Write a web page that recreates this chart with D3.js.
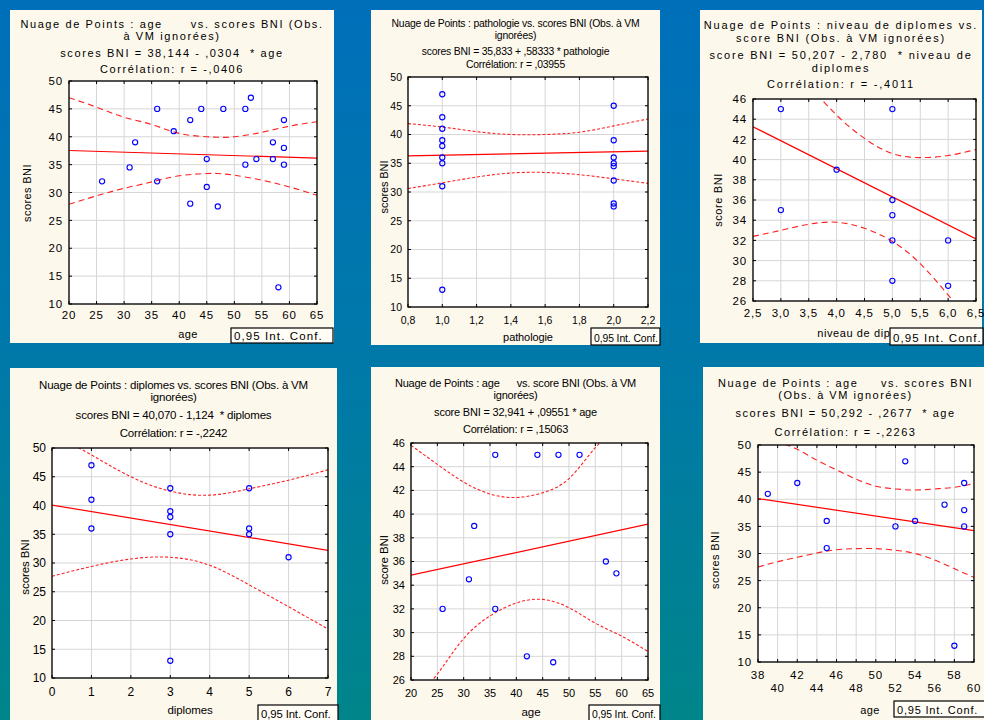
<!DOCTYPE html>
<html>
<head>
<meta charset="utf-8">
<script src="https://cdn.jsdelivr.net/npm/d3@7"></script>
<style>
  body { margin: 0; }
  svg { display: block; }
</style>
</head>
<body>
<script>
// ---- panel 1 : age vs scores BNI ----
const p1X = [26, 31, 32, 36, 36, 39, 42, 42, 44, 45, 45, 47, 48, 52, 52, 53, 54, 57, 57, 58, 59, 59, 59];
const p1Y = [32, 34.5, 39, 45, 32, 41, 43, 28, 45, 36, 31, 27.5, 45, 45, 35, 47, 36, 39, 36, 13, 43, 38, 35];
const p1CiX = [20, 25, 30, 35, 40, 45, 47, 50, 55, 60, 65];
const p1Up = [47.0, 45.3, 43.5, 42.2, 40.6, 40.0, 39.9, 40.0, 40.8, 41.9, 42.7];
const p1Lo = [27.9, 29.4, 30.75, 31.9, 33.0, 33.4, 33.4, 33.1, 32.2, 31.0, 29.5];
const p1Fit = [38.144, -0.0304];
const p1XTicks = [20, 25, 30, 35, 40, 45, 50, 55, 60, 65];
const p1YTicks = [10, 15, 20, 25, 30, 35, 40, 45, 50];

// ---- panel 2 : pathologie ----
const p2X = [1, 1, 1, 1, 1, 1, 1, 1, 1, 2, 2, 2, 2, 2, 2, 2, 2];
const p2Y = [47, 43, 41, 39, 38, 36, 35, 31, 13, 45, 39, 36, 35, 34.5, 32, 28, 27.5];
const p2CiX = [0.8, 1.0, 1.2, 1.4, 1.6, 1.8, 2.0, 2.2];
const p2Up = [41.9, 41.3, 40.5, 40.0, 40.0, 40.4, 41.5, 42.7];
const p2Lo = [30.6, 31.6, 32.6, 33.3, 33.4, 33.0, 32.3, 31.5];
const p2Fit = [35.833, 0.58333];
const p2XTicks = [0.8, 1.0, 1.2, 1.4, 1.6, 1.8, 2.0, 2.2];
const p2YTicks = [10, 15, 20, 25, 30, 35, 40, 45, 50];

// ---- panel 3 : niveau de diplomes ----
const p3X = [3, 3, 4, 5, 5, 5, 5, 5, 6, 6];
const p3Y = [45, 35, 39, 45, 36, 34.5, 32, 28, 32, 27.5];
const p3CiX = [2.5, 3.0, 3.5, 4.0, 4.5, 5.0, 5.5, 6.0, 6.5];
const p3Up = [54.1, 50.7, 47.4, 44.4, 42.1, 40.6, 40.2, 40.4, 41.0];
const p3Lo = [32.4, 33.0, 33.6, 33.8, 33.2, 31.9, 29.7, 26.6, 23.3];
const p3Fit = [50.207, -2.780];
const p3XTicks = [2.5, 3.0, 3.5, 4.0, 4.5, 5.0, 5.5, 6.0, 6.5];
const p3YTicks = [26, 28, 30, 32, 34, 36, 38, 40, 42, 44, 46];

// ---- panel 4 : diplomes ----
const p4X = [1, 1, 1, 3, 3, 3, 3, 3, 5, 5, 5, 6];
const p4Y = [47, 41, 36, 43, 39, 38, 35, 13, 43, 36, 35, 31];
const p4CiX = [0, 1, 2, 3, 4, 5, 6, 7];
const p4Up = [52.5, 48.8, 45.0, 42.5, 41.8, 42.9, 44.4, 46.2];
const p4Lo = [27.7, 29.4, 30.7, 31.0, 29.6, 26.2, 22.4, 18.5];
const p4Fit = [40.070, -1.124];
const p4XTicks = [0, 1, 2, 3, 4, 5, 6, 7];
const p4YTicks = [10, 15, 20, 25, 30, 35, 40, 45, 50];

// ---- panel 5 : age vs score BNI ----
const p5X = [26, 31, 32, 36, 36, 42, 44, 47, 48, 52, 57, 59];
const p5Y = [32, 34.5, 39, 45, 32, 28, 45, 27.5, 45, 45, 36, 35];
const p5CiX = [20, 25, 30, 35, 40, 45, 50, 55, 60, 65];
const p5Up = [45.8, 44.2, 42.7, 41.7, 41.4, 41.8, 43.0, 45.6, 47.7, 49.9];
const p5Lo = [23.9, 26.5, 29.5, 31.4, 32.5, 32.8, 32.1, 30.8, 29.7, 28.4];
const p5Fit = [32.941, 0.09551];
const p5XTicks = [20, 25, 30, 35, 40, 45, 50, 55, 60, 65];
const p5YTicks = [26, 28, 30, 32, 34, 36, 38, 40, 42, 44, 46];

// ---- panel 6 : age (38-60) ----
const p6X = [39, 42, 45, 45, 52, 53, 54, 57, 58, 59, 59, 59];
const p6Y = [41, 43, 36, 31, 35, 47, 36, 39, 13, 43, 38, 35];
const p6CiX = [38, 40, 42, 44, 46, 48, 50, 52, 54, 56, 58, 60];
const p6Up = [52.7, 50.7, 49.2, 47.2, 45.4, 43.7, 42.4, 41.9, 41.7, 41.9, 42.2, 42.9];
const p6Lo = [27.5, 28.5, 29.3, 30.1, 30.7, 30.9, 30.9, 30.6, 30.0, 28.8, 27.2, 25.6];
const p6Fit = [50.292, -0.2677];
const p6XTicks = [38, 40, 42, 44, 46, 48, 50, 52, 54, 56, 58, 60];
const p6YTicks = [10, 15, 20, 25, 30, 35, 40, 45, 50];

const W = 984, H = 720;
const sans = "'Liberation Sans', Arial, sans-serif";

const svg = d3.select("body").append("svg")
  .attr("width", W)
  .attr("height", H);

const defs = svg.append("defs");
const grad = defs.append("linearGradient")
  .attr("id", "bg")
  .attr("x1", 0).attr("y1", 0).attr("x2", 0).attr("y2", 1);
grad.append("stop").attr("offset", "0%").attr("stop-color", "#006fba");
grad.append("stop").attr("offset", "50%").attr("stop-color", "#0079a9");
grad.append("stop").attr("offset", "100%").attr("stop-color", "#00858a");

svg.append("rect")
  .attr("width", W)
  .attr("height", H)
  .attr("fill", "url(#bg)");

const comma = function (v, dec) {
  return (dec ? v.toFixed(dec) : String(v)).replace(".", ",");
};

function font(sel, f) {
  return sel.style("font", f.size + "px " + sans)
    .style("letter-spacing", f.ls + "px");
}

let clipId = 0;

function panel(o) {
  const g = svg.append("g");
  const [bx0, by0, bx1, by1] = o.box;
  const [px0, py0, px1, py1] = o.plot;

  g.append("rect")
    .attr("x", bx0).attr("y", by0)
    .attr("width", bx1 - bx0).attr("height", by1 - by0)
    .attr("fill", "#fdf8ec");

  const x = d3.scaleLinear().domain(o.xDomain).range([px0, px1]);
  const y = d3.scaleLinear().domain(o.yDomain).range([py1, py0]);

  g.append("rect")
    .attr("x", px0).attr("y", py0)
    .attr("width", px1 - px0).attr("height", py1 - py0)
    .attr("fill", "#ffffff");

  // grid
  g.selectAll(".gx").data(o.xTicks).join("line")
    .attr("x1", d => x(d)).attr("x2", d => x(d))
    .attr("y1", py0).attr("y2", py1)
    .attr("stroke", "#d6d6d6").attr("stroke-width", 1);
  g.selectAll(".gy").data(o.yTicks).join("line")
    .attr("y1", d => y(d)).attr("y2", d => y(d))
    .attr("x1", px0).attr("x2", px1)
    .attr("stroke", "#d6d6d6").attr("stroke-width", 1);

  // small inner ticks on the frame
  const tk = 3;
  g.selectAll(".tb").data(o.xTicks).join("path")
    .attr("d", d => "M" + x(d) + "," + py1 + "v" + (-tk) + "M" + x(d) + "," + py0 + "v" + tk)
    .attr("stroke", "#000").attr("stroke-width", 1);
  g.selectAll(".tl").data(o.yTicks).join("path")
    .attr("d", d => "M" + px0 + "," + y(d) + "h" + tk + "M" + px1 + "," + y(d) + "h" + (-tk))
    .attr("stroke", "#000").attr("stroke-width", 1);

  // clip for fit + CI
  const id = "clip" + (clipId++);
  defs.append("clipPath").attr("id", id)
    .append("rect")
    .attr("x", px0).attr("y", py0)
    .attr("width", px1 - px0).attr("height", py1 - py0);
  const inner = g.append("g").attr("clip-path", "url(#" + id + ")");

  const ci = d3.line()
    .x(d => x(d[0]))
    .y(d => y(d[1]))
    .curve(d3.curveNatural);
  [o.up, o.lo].forEach(function (arr) {
    inner.append("path")
      .attr("d", ci(o.ciX.map((v, i) => [v, arr[i]])))
      .attr("fill", "none")
      .attr("stroke", "#ff2020")
      .attr("stroke-width", 1.1)
      .attr("stroke-dasharray", o.dash);
  });

  const x0 = o.xDomain[0], x1 = o.xDomain[1];
  inner.append("line")
    .attr("x1", x(x0)).attr("y1", y(o.fit[0] + o.fit[1] * x0))
    .attr("x2", x(x1)).attr("y2", y(o.fit[0] + o.fit[1] * x1))
    .attr("stroke", "#ff0000")
    .attr("stroke-width", 1.2);

  // points
  g.selectAll(".pt").data(o.xs.map((v, i) => [v, o.ys[i]])).join("circle")
    .attr("cx", d => x(d[0]))
    .attr("cy", d => y(d[1]))
    .attr("r", 2.6)
    .attr("fill", "none")
    .attr("stroke", "#0000ff")
    .attr("stroke-width", 1.1);

  // frame
  g.append("rect")
    .attr("x", px0).attr("y", py0)
    .attr("width", px1 - px0).attr("height", py1 - py0)
    .attr("fill", "none")
    .attr("stroke", "#000")
    .attr("stroke-width", 1.3);

  // y tick labels
  font(g.selectAll(".yl").data(o.yTicks).join("text")
    .attr("x", px0 - 6)
    .attr("y", d => y(d))
    .attr("dy", "0.36em")
    .attr("text-anchor", "end"), o.tickFont)
    .text(d => comma(d, 0));

  // x tick labels
  font(g.selectAll(".xl").data(o.xTicks).join("text")
    .attr("x", d => x(d))
    .attr("y", (d, i) => py1 + o.xLabDy + (o.stagger && i % 2 === 1 ? o.stagger : 0))
    .attr("text-anchor", "middle"), o.tickFont)
    .text(d => comma(d, o.xDec));

  // title lines
  font(g.selectAll(".tt").data(o.title).join("text")
    .attr("x", (bx0 + bx1) / 2 + (o.titleDx || 0))
    .attr("y", (d, i) => o.titleY[i])
    .attr("text-anchor", "middle")
    .style("white-space", "pre"), o.titleFont)
    .text(d => d);

  // axis titles
  font(g.append("text")
    .attr("x", o.xTitle[0]).attr("y", o.xTitle[1])
    .attr("text-anchor", "middle"), o.axisFont)
    .text(o.xLabel);
  font(g.append("text")
    .attr("transform", "translate(" + o.yTitle[0] + "," + o.yTitle[1] + ") rotate(-90)")
    .attr("text-anchor", "middle"), o.axisFont)
    .text(o.yLabel);

  // 0,95 Int. Conf. box
  const [cx0, cy0, cx1, cy1] = o.ciBox;
  g.append("rect")
    .attr("x", cx0).attr("y", cy0)
    .attr("width", cx1 - cx0).attr("height", cy1 - cy0)
    .attr("fill", "#fffdf5")
    .attr("stroke", "#000")
    .attr("stroke-width", 1.2);
  font(g.append("text")
    .attr("x", cx0 + 3).attr("y", cy1 - 3.5), o.ciFont)
    .text("0,95 Int. Conf.");
}

const wideTitle = { size: 11, ls: 1.6 };
const wideTick = { size: 11.5, ls: 0.8 };
const wideAxis = { size: 11, ls: 0.4 };
const wideCi = { size: 11.5, ls: 1.1 };

panel({
  box: [10, 10, 334, 343], plot: [69, 81, 317, 304],
  xDomain: [20, 65], yDomain: [10, 50], xTicks: p1XTicks, yTicks: p1YTicks, xDec: 0,
  xs: p1X, ys: p1Y, ciX: p1CiX, up: p1Up, lo: p1Lo, fit: p1Fit, dash: "6,4",
  title: ["Nuage de Points : age      vs. scores BNI (Obs.", "à VM ignorées)",
          "scores BNI = 38,144 - ,0304  * age", "Corrélation: r = -,0406"],
  titleY: [28, 40, 57, 73],
  titleFont: wideTitle, tickFont: wideTick, axisFont: wideAxis, ciFont: wideCi, xLabDy: 15,
  xLabel: "age", xTitle: [188, 338], yLabel: "scores BNI", yTitle: [31, 193],
  ciBox: [231, 328, 333, 343]
});

panel({
  box: [371, 10, 660, 345], plot: [408, 77, 648, 307],
  xDomain: [0.8, 2.2], yDomain: [10, 50], xTicks: p2XTicks, yTicks: p2YTicks, xDec: 1,
  xs: p2X, ys: p2Y, ciX: p2CiX, up: p2Up, lo: p2Lo, fit: p2Fit, dash: "3,2",
  title: ["Nuage de Points : pathologie vs. scores BNI (Obs. à VM", "ignorées)",
          "scores BNI = 35,833 + ,58333 * pathologie", "Corrélation: r = ,03955"],
  titleY: [27, 39, 55, 68],
  titleFont: { size: 10.4, ls: -0.2 }, tickFont: { size: 10.5, ls: 0 },
  axisFont: { size: 11, ls: -0.1 }, ciFont: { size: 10.4, ls: -0.1 }, xLabDy: 17,
  xLabel: "pathologie", xTitle: [528, 341], yLabel: "scores BNI", yTitle: [388, 187],
  ciBox: [591, 328, 660, 345]
});

panel({
  box: [700, 10, 982, 343], plot: [753, 99, 976, 301],
  xDomain: [2.5, 6.5], yDomain: [26, 46], xTicks: p3XTicks, yTicks: p3YTicks, xDec: 1,
  xs: p3X, ys: p3Y, ciX: p3CiX, up: p3Up, lo: p3Lo, fit: p3Fit, dash: "6,4",
  title: ["Nuage de Points : niveau de diplomes vs.", "score BNI (Obs. à VM ignorées)",
          "score BNI = 50,207 - 2,780  * niveau de", "diplomes", "Corrélation: r = -,4011"],
  titleY: [29, 42, 59, 72, 88],
  titleFont: { size: 11, ls: 1.8 }, tickFont: wideTick, axisFont: { size: 11, ls: 0.6 }, ciFont: wideCi, xLabDy: 16,
  xLabel: "niveau de diplomes", xTitle: [870, 337], yLabel: "score BNI", yTitle: [722, 200],
  ciBox: [890, 328, 983, 345]
});

panel({
  box: [10, 368, 337, 720], plot: [52, 448, 328, 678],
  xDomain: [0, 7], yDomain: [10, 50], xTicks: p4XTicks, yTicks: p4YTicks, xDec: 0,
  xs: p4X, ys: p4Y, ciX: p4CiX, up: p4Up, lo: p4Lo, fit: p4Fit, dash: "3,2",
  title: ["Nuage de Points : diplomes vs. scores BNI (Obs. à VM", "ignorées)",
          "scores BNI = 40,070 - 1,124  * diplomes", "Corrélation: r = -,2242"],
  titleY: [389, 401, 419, 437],
  titleFont: { size: 11.5, ls: -0.2 }, tickFont: { size: 12, ls: 0 },
  axisFont: { size: 11.5, ls: -0.1 }, ciFont: { size: 11.3, ls: -0.1 }, xLabDy: 18,
  xLabel: "diplomes", xTitle: [190, 714], yLabel: "scores BNI", yTitle: [29, 567],
  ciBox: [258, 705, 338, 721]
});

panel({
  box: [371, 367, 660, 720], plot: [411, 443, 648, 680],
  xDomain: [20, 65], yDomain: [26, 46], xTicks: p5XTicks, yTicks: p5YTicks, xDec: 0,
  xs: p5X, ys: p5Y, ciX: p5CiX, up: p5Up, lo: p5Lo, fit: p5Fit, dash: "3,2",
  title: ["Nuage de Points : age      vs. score BNI (Obs. à VM", "ignorées)",
          "score BNI = 32,941 + ,09551 * age", "Corrélation: r = ,15063"],
  titleY: [387, 399, 416, 433],
  titleFont: { size: 11, ls: -0.2 }, tickFont: { size: 11, ls: 0 },
  axisFont: { size: 11.5, ls: -0.1 }, ciFont: { size: 10.4, ls: -0.1 }, xLabDy: 17,
  xLabel: "age", xTitle: [531, 716], yLabel: "score BNI", yTitle: [388, 560],
  ciBox: [589, 705, 660, 721]
});

panel({
  box: [703, 367, 984, 720], plot: [758, 445, 974, 662],
  xDomain: [38, 60], yDomain: [10, 50], xTicks: p6XTicks, yTicks: p6YTicks, xDec: 0,
  stagger: 13,
  xs: p6X, ys: p6Y, ciX: p6CiX, up: p6Up, lo: p6Lo, fit: p6Fit, dash: "6,4",
  title: ["Nuage de Points : age     vs. scores BNI", "(Obs. à VM ignorées)",
          "scores BNI = 50,292 - ,2677  * age", "Corrélation: r = -,2263"],
  titleY: [387, 399, 417, 436], titleDx: 2,
  titleFont: { size: 11, ls: 1.5 }, tickFont: wideTick, axisFont: wideAxis,
  ciFont: { size: 11, ls: 0.8 }, xLabDy: 17,
  xLabel: "age", xTitle: [870, 714], yLabel: "scores BNI", yTitle: [719, 560],
  ciBox: [894, 701, 985, 717]
});
</script>
</body>
</html>
